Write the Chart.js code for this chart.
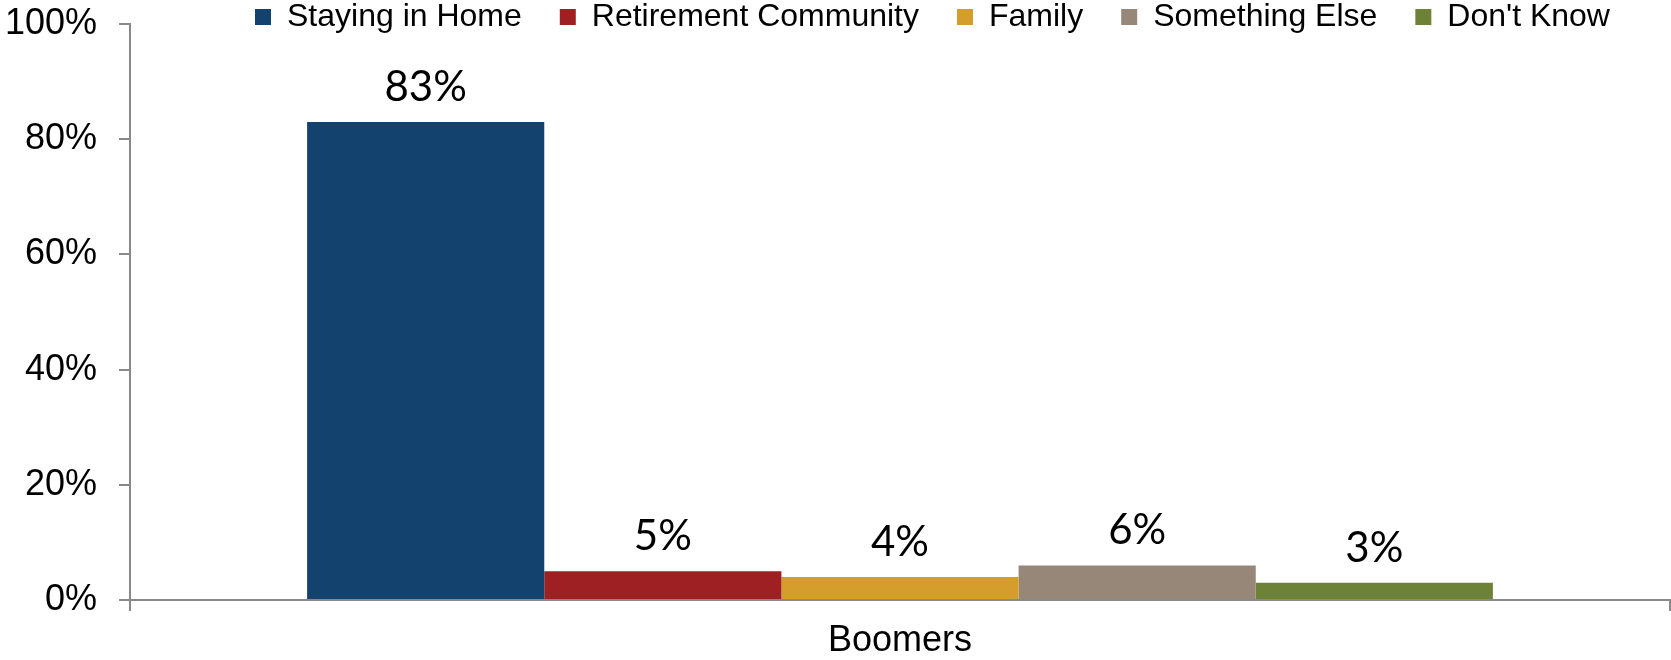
<!DOCTYPE html>
<html>
<head>
<meta charset="utf-8">
<script src="https://cdn.jsdelivr.net/npm/chart.js@4.4.1/dist/chart.umd.min.js"></script>
<style>
  html, body { margin: 0; padding: 0; background: #fff; }
  #wrap { width: 1671px; height: 660px; }
</style>
</head>
<body>
<div id="wrap"><canvas id="chart" width="1671" height="660"></canvas></div>
<script>
// Data
const categories = ['Boomers'];
const seriesNames = ['Staying in Home', 'Retirement Community', 'Family', 'Something Else', "Don't Know"];
const seriesValues = [83, 5, 4, 6, 3];
const seriesColors = ['#13426f', '#9f2022', '#d59d2b', '#968779', '#6e8237'];
const yTickValues = [0, 20, 40, 60, 80, 100];

const axisGrey = '#898989';
const legendPad = 38;

// Draw value labels above the bars
const barLabels = {
  id: 'barLabels',
  afterDatasetsDraw(chart) {
    const ctx = chart.ctx;
    ctx.save();
    ctx.font = '42px Lato';
    ctx.fillStyle = '#000';
    ctx.textAlign = 'center';
    ctx.textBaseline = 'alphabetic';
    chart.data.datasets.forEach((ds, i) => {
      chart.getDatasetMeta(i).data.forEach((bar, j) => {
        ctx.fillText(ds.data[j] + '%', bar.x, bar.y - 21);
      });
    });
    ctx.restore();
  }
};

// Legend sits right of centre, hugging the top edge
const legendShift = {
  id: 'legendShift',
  afterLayout(chart) {
    const lg = chart.legend;
    lg.left = 255 - legendPad;
    lg.top = 17 - 16 - legendPad;
    lg.bottom = 60; // keep the clip box big enough for the text
  }
};

const datasets = seriesNames.map((name, i) => ({
  label: name,
  data: [seriesValues[i]],
  backgroundColor: seriesColors[i],
  borderWidth: 0,
  categoryPercentage: 0.77,
  barPercentage: 1.0
}));

Chart.defaults.font.family = "'Liberation Sans', Arial, sans-serif";
Chart.defaults.color = '#000';

new Chart(document.getElementById('chart').getContext('2d'), {
  type: 'bar',
  data: { labels: categories, datasets: datasets },
  plugins: [barLabels, legendShift],
  options: {
    responsive: false,
    animation: false,
    layout: { padding: { left: 0, right: 1, top: 0, bottom: 0 } },
    plugins: {
      tooltip: { enabled: false },
      legend: {
        position: 'top',
        align: 'start',
        maxHeight: 24,
        labels: {
          boxWidth: 16,
          boxHeight: 16,
          padding: legendPad,
          font: { size: 32 },
          color: '#000'
        }
      }
    },
    scales: {
      x: {
        afterFit(scale) {
          scale.height = 60;
          scale.paddingLeft = 0;
          scale.paddingRight = 0;
        },
        grid: {
          display: true,
          drawOnChartArea: false,
          drawTicks: true,
          tickLength: 11,
          color: axisGrey,
          lineWidth: 2
        },
        border: { display: true, color: axisGrey, width: 2 },
        ticks: { font: { size: 36, lineHeight: 1 }, padding: 12, color: '#000' }
      },
      y: {
        min: 0,
        max: 100,
        afterBuildTicks(scale) {
          scale.ticks = yTickValues.map(v => ({ value: v }));
        },
        afterFit(scale) {
          scale.width = 130;
          scale.paddingTop = 0;
          scale.paddingBottom = 0;
        },
        grid: {
          display: true,
          drawOnChartArea: false,
          drawTicks: true,
          tickLength: 11,
          color: axisGrey,
          lineWidth: 2
        },
        border: { display: true, color: axisGrey, width: 2 },
        ticks: {
          font: { size: 36 },
          padding: 22,
          color: '#000',
          callback: v => v + '%'
        }
      }
    }
  }
});
</script>
</body>
</html>
